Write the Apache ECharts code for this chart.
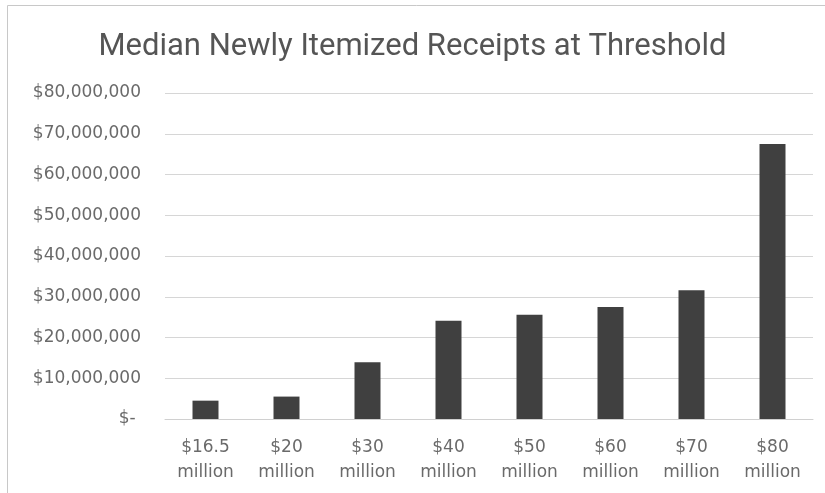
<!DOCTYPE html>
<html>
<head>
<meta charset="utf-8">
<script src="https://cdn.jsdelivr.net/npm/echarts@6/dist/echarts.min.js"></script>
<style>
  html, body { margin: 0; padding: 0; background: #fff; }
  #chart { width: 825px; height: 493px; }
</style>
</head>
<body>
<div id="chart"></div>
<script>
// thresholds on the x axis
var thresholds = ['$16.5\nmillion', '$20\nmillion', '$30\nmillion', '$40\nmillion',
                  '$50\nmillion', '$60\nmillion', '$70\nmillion', '$80\nmillion'];
// median newly itemized receipts, dollars
var medianReceipts = [4500000, 5500000, 13900000, 24100000, 25600000, 27500000, 31600000, 67500000];
var yMax = 80000000;
var yStep = 10000000;

var chart = echarts.init(document.getElementById('chart'));

function money(v) {
    if (v === 0) return '$- ';
    return '$' + v.toString().replace(/\B(?=(\d{3})+(?!\d))/g, ',');
}

var option = {
    backgroundColor: '#fff',
    animation: false,
    title: {
        text: 'Median Newly Itemized Receipts at Threshold',
        left: 'center',
        top: 27,
        textStyle: {
            fontFamily: 'Roboto',
            fontWeight: 'normal',
            fontSize: 31,
            color: '#555'
        }
    },
    graphic: [{
        type: 'rect',
        shape: { x: 7.5, y: 5.5, width: 840, height: 520 },
        style: { fill: 'none', stroke: '#c8c8c8', lineWidth: 1 },
        silent: true
    }],
    grid: {
        left: 165,
        right: 12,
        top: 93,
        bottom: 74
    },
    xAxis: {
        type: 'category',
        data: thresholds,
        axisLine: { show: true, lineStyle: { color: '#d0d0d0' } },
        axisTick: { show: false },
        axisLabel: {
            color: '#6a6a6a',
            fontFamily: 'DejaVu Sans',
            fontSize: 17,
            lineHeight: 25,
            margin: 16
        }
    },
    yAxis: {
        type: 'value',
        min: 0,
        max: yMax,
        interval: yStep,
        axisLine: { show: false },
        axisTick: { show: false },
        axisLabel: {
            formatter: money,
            color: '#6a6a6a',
            fontFamily: 'DejaVu Sans',
            fontSize: 17,
            margin: 24
        },
        splitLine: { lineStyle: { color: '#d6d6d6', width: 1 } }
    },
    series: [{
        type: 'bar',
        data: medianReceipts,
        barWidth: 26,
        itemStyle: { color: '#404040' }
    }]
};

chart.setOption(option);
</script>
</body>
</html>
